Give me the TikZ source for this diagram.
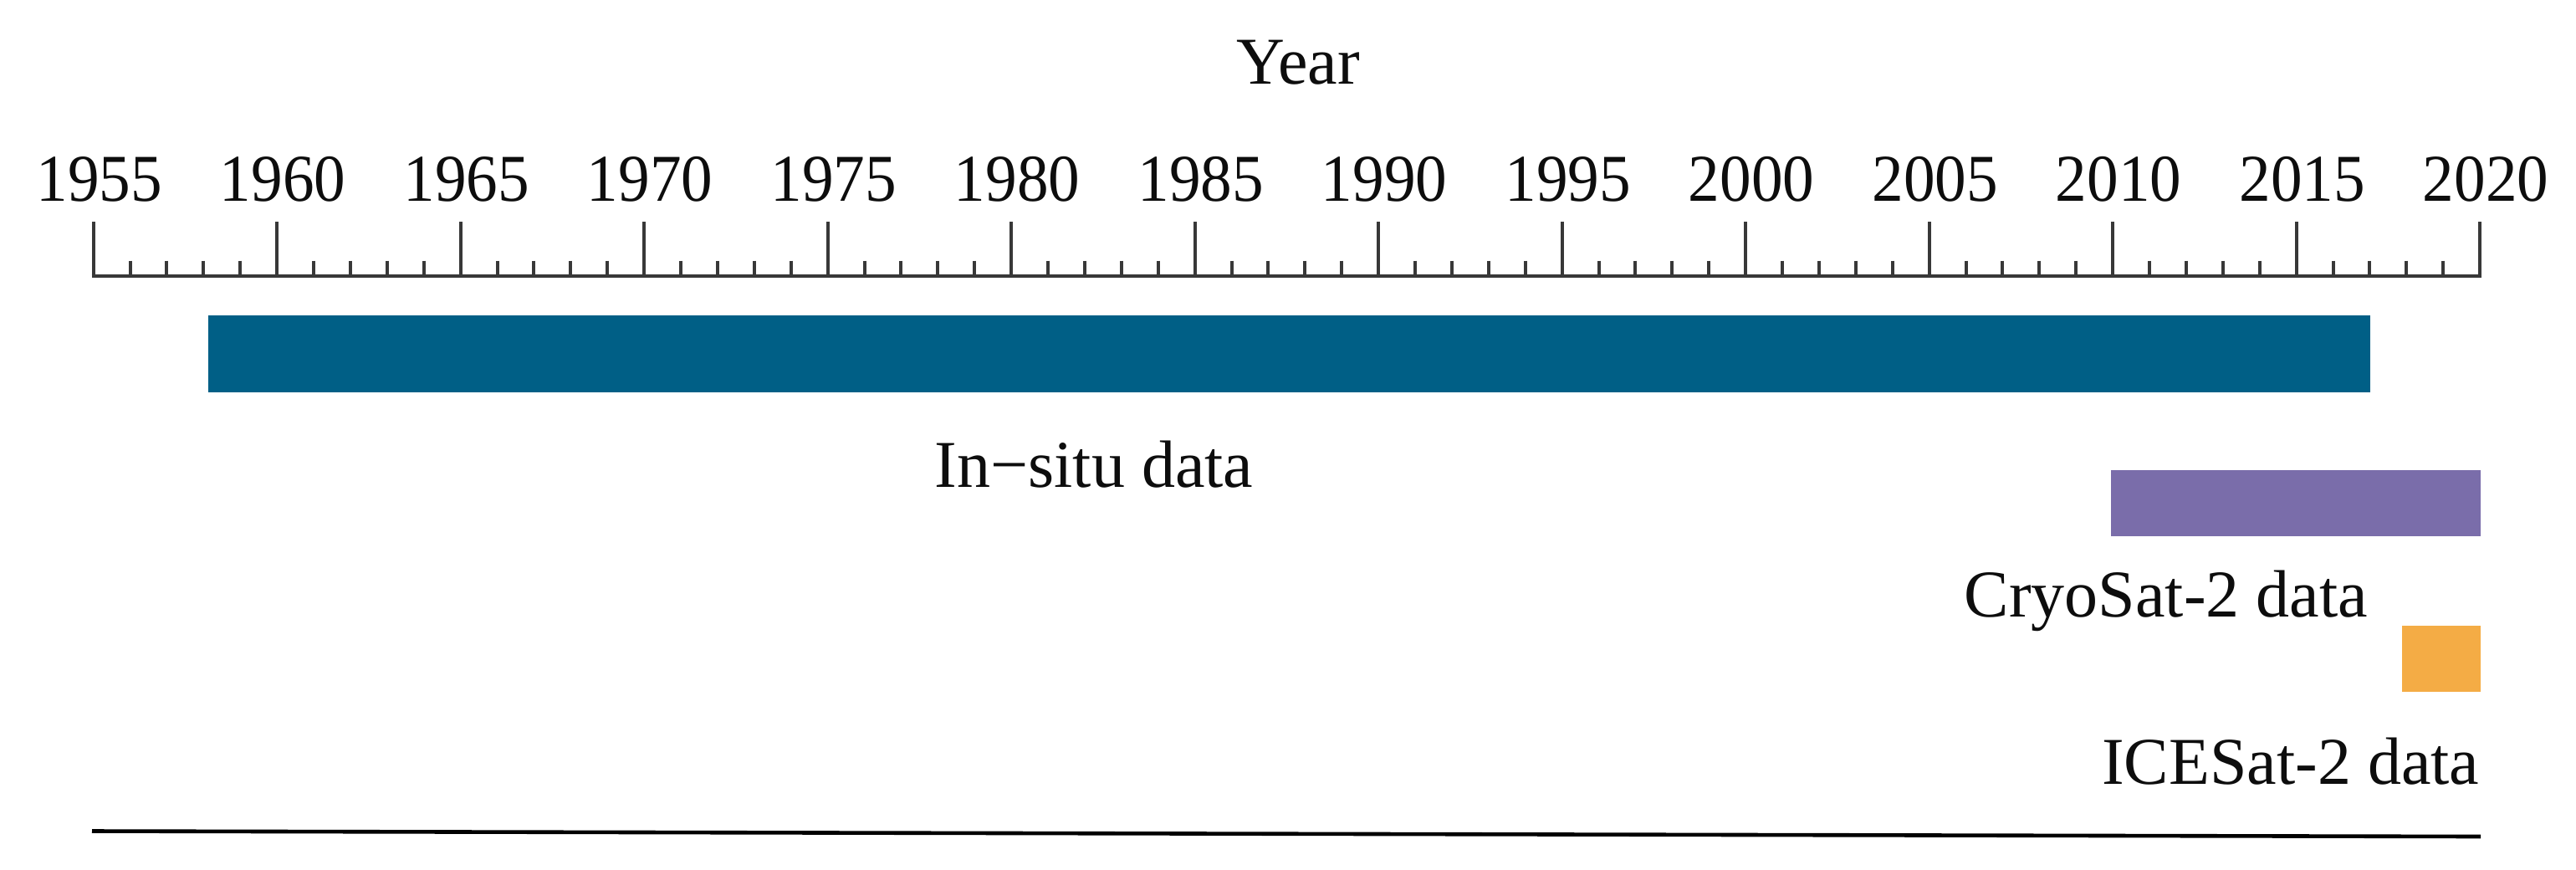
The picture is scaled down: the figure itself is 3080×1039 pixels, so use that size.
\documentclass[tikz,border=0pt]{standalone}
\usepackage{fontspec}
\setmainfont{Liberation Serif}
\usepackage{graphicx}
\definecolor{insitu}{HTML}{005F86}
\definecolor{cryo}{HTML}{7A6DAA}
\definecolor{ice}{HTML}{F4AC45}
\begin{document}
\begin{tikzpicture}[x=0.25pt,y=-0.25pt,
  lbl/.style={inner sep=0pt, anchor=base, font=\fontsize{20}{24}\selectfont, text=black!95},
  axisline/.style={line width=1pt, draw=black!78},
  barfill/.style={draw=none}]
\useasboundingbox (0,0) rectangle (3080,1039);
\fill[white] (0,0) rectangle (3080,1039);
% axis title
\node[lbl] (year) at (1552,100) {Year};
% major ticks and labels
\foreach \i in {0,...,13} {
  \pgfmathsetmacro\xx{111.6+\i*5*43.9}
  \pgfmathtruncatemacro\yr{1955+5*\i}
  \node[lbl] (y\yr) at (\xx+7,240) {\scalebox{0.94}[1]{\yr}};
  \draw[axisline] (\xx,265) -- (\xx,330);
}
% minor ticks
\foreach \j in {1,...,64} {
  \pgfmathtruncatemacro\m{mod(\j,5)}
  \ifnum\m>0
    \pgfmathsetmacro\xx{111.6+\j*43.9}
    \draw[axisline] (\xx,311.7) -- (\xx,330);
  \fi
}
% baseline
\coordinate (axL) at (111.6,330);
\coordinate (axR) at (2965,330);
\draw[axisline] ([xshift=-0.5pt]axL) -- ([xshift=0.5pt]axR);
% bars
\fill[insitu, barfill] (249,376.7) rectangle (2833.6,469);
\fill[cryo, barfill] (2524.3,561.7) rectangle (2966,640.7);
\fill[ice, barfill] (2871.7,748.3) rectangle (2966,826.7);
% labels
\node[lbl] (insitulbl) at (1308,582) {In−situ data};
\node[lbl] (cryolbl) at (2590,737) {CryoSat-2 data};
\node[lbl, anchor=base east] (icelbl) at (2965,937) {ICESat-2 data};
% bottom rule
\coordinate (rL) at (110,993.5);
\coordinate (rR) at (2966,1000);
\draw[line width=1.15pt, black] (rL) -- (rR);
\end{tikzpicture}
\end{document}
